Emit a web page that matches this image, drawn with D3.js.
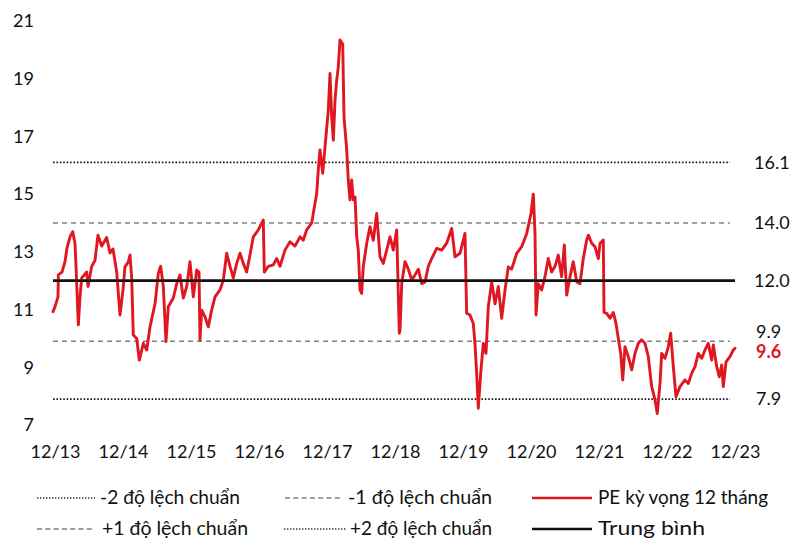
<!DOCTYPE html>
<html><head><meta charset="utf-8">
<script src="https://cdn.jsdelivr.net/npm/d3@7"></script>
<style>body{margin:0;background:#fff}svg{display:block}</style>
</head><body><svg id="c" width="792" height="538"></svg>
<script>
// decimal-year dates and 12-month forward PE values
const dates = [2013.888,2013.917,2013.961,2013.966,2014.020,2014.064,2014.093,2014.138,2014.177,2014.211,2014.226,2014.260,2014.285,2014.310,2014.383,2014.402,2014.457,2014.505,2014.549,2014.604,2014.677,2014.726,2014.770,2014.824,2014.873,2014.917,2014.946,2014.995,2015.020,2015.045,2015.068,2015.118,2015.157,2015.216,2015.266,2015.314,2015.388,2015.436,2015.471,2015.510,2015.549,2015.583,2015.657,2015.707,2015.755,2015.804,2015.854,2015.902,2015.951,2016.001,2016.035,2016.049,2016.074,2016.123,2016.171,2016.221,2016.270,2016.343,2016.392,2016.442,2016.491,2016.539,2016.589,2016.638,2016.686,2016.736,2016.785,2016.833,2016.907,2016.980,2016.995,2017.054,2017.127,2017.177,2017.226,2017.299,2017.373,2017.446,2017.520,2017.568,2017.618,2017.692,2017.716,2017.766,2017.789,2017.814,2017.854,2017.888,2017.936,2017.961,2017.986,2018.010,2018.035,2018.060,2018.083,2018.108,2018.148,2018.167,2018.207,2018.230,2018.255,2018.280,2018.304,2018.329,2018.354,2018.377,2018.402,2018.427,2018.451,2018.501,2018.549,2018.598,2018.648,2018.696,2018.745,2018.795,2018.843,2018.892,2018.942,2018.980,2018.991,2019.016,2019.064,2019.113,2019.163,2019.211,2019.260,2019.310,2019.358,2019.407,2019.457,2019.530,2019.604,2019.677,2019.751,2019.799,2019.873,2019.946,2019.971,2020.020,2020.068,2020.093,2020.118,2020.142,2020.177,2020.216,2020.255,2020.289,2020.339,2020.388,2020.436,2020.486,2020.535,2020.583,2020.633,2020.707,2020.780,2020.854,2020.917,2020.951,2020.976,2020.991,2021.024,2021.074,2021.123,2021.171,2021.221,2021.270,2021.318,2021.368,2021.407,2021.442,2021.491,2021.539,2021.589,2021.638,2021.686,2021.736,2021.760,2021.810,2021.858,2021.907,2021.932,2021.980,2021.991,2022.030,2022.079,2022.127,2022.167,2022.201,2022.236,2022.266,2022.299,2022.348,2022.398,2022.446,2022.495,2022.545,2022.593,2022.642,2022.692,2022.741,2022.774,2022.814,2022.839,2022.888,2022.936,2022.971,2023.010,2023.049,2023.108,2023.182,2023.230,2023.280,2023.329,2023.377,2023.427,2023.476,2023.524,2023.574,2023.598,2023.648,2023.686,2023.721,2023.745,2023.785,2023.843,2023.892,2023.917];
const pe = [10.93,11.1,11.44,12.2,12.3,12.66,13.13,13.52,13.7,13.3,12.5,10.47,11.45,12.1,12.3,11.8,12.5,12.7,13.58,13.2,13.5,12.96,13.1,12.31,10.81,11.68,12.48,12.65,12.89,12.08,10.12,10.0,9.25,9.83,9.6,10.4,11.2,12.25,12.5,11.8,9.89,11.1,11.4,11.9,12.2,11.4,11.8,12.66,11.44,12.37,12.3,9.95,10.98,10.75,10.4,10.98,11.44,11.68,12.02,12.95,12.5,12.1,12.6,12.95,12.6,12.3,12.9,13.52,13.76,14.1,12.3,12.5,12.55,12.77,12.5,13.06,13.35,13.2,13.52,13.4,13.76,14.0,14.34,15.03,15.84,16.53,15.72,16.64,17.9,19.18,17.68,16.87,18.26,18.95,19.4,20.34,20.2,17.68,16.53,15.49,14.8,15.49,14.8,14.9,13.52,13.06,11.68,11.56,12.5,13.3,13.87,13.4,14.33,12.83,12.6,13.06,13.52,13.06,13.76,10.18,10.29,11.9,12.66,12.4,12.02,12.2,12.4,11.9,11.95,12.5,12.77,13.12,13.06,13.3,13.81,12.83,12.95,13.64,10.87,10.81,10.52,9.83,8.79,7.58,8.79,9.83,9.48,11.1,11.96,11.2,11.8,10.7,11.68,12.48,12.4,12.95,13.18,13.64,14.33,15.0,13.64,10.81,11.9,11.68,12.14,12.77,12.3,12.5,12.89,12.14,13.24,11.5,12.14,12.66,11.96,11.9,12.77,13.41,13.58,13.3,13.18,12.77,13.3,13.41,10.9,10.87,10.7,10.9,10.52,10.0,9.48,8.56,9.71,9.37,8.91,9.48,9.83,9.95,9.83,9.37,8.33,7.87,7.4,8.44,9.48,9.31,9.71,10.18,9.02,7.98,8.33,8.56,8.44,8.79,9.02,9.48,9.31,9.6,9.83,9.25,9.77,9.02,8.67,9.08,8.33,9.19,9.37,9.6,9.66];

const yTicks = [7, 9, 11, 13, 15, 17, 19, 21];
const xTickYears = [2013.917, 2014.917, 2015.917, 2016.917, 2017.917, 2018.917, 2019.917, 2020.917, 2021.917, 2022.917, 2023.917];
const xTickLabels = ["12/13","12/14","12/15","12/16","12/17","12/18","12/19","12/20","12/21","12/22","12/23"];
const bandValues = [7.9, 9.9, 12.0, 14.0, 16.1];
const bandLabels = ["7.9", "9.9", "12.0", "14.0", "16.1"];
const lastLabel = "9.6";
const legendLabels = ["-2 độ lệch chuẩn", "-1 độ lệch chuẩn", "PE kỳ vọng 12 tháng", "+1 độ lệch chuẩn", "+2 độ lệch chuẩn", "Trung bình"];

const FONT = "Lato, 'Open Sans', sans-serif";
const RED = "#e01620";
const svg = d3.select("#c");

const x = d3.scaleLinear().domain([2013.917, 2023.917]).range([55, 735]);
const y = d3.scaleLinear().domain([7, 21]).range([425, 21]);

// reference lines
const bandStyle = [
  {dash: "1.6,1.8", color: "#1a1a1a", w: 1.8, end: 2023.843, lab: 0},
  {dash: "5,4", color: "#808080", w: 1.5, end: 2023.843, lab: -10},
  {dash: null, color: "#111", w: 2.6, end: 2023.917, lab: 0},
  {dash: "5,4", color: "#808080", w: 1.5, end: 2023.843, lab: 0},
  {dash: "1.6,1.8", color: "#1a1a1a", w: 1.8, end: 2023.843, lab: 0}
];
svg.append("g").selectAll("line").data(bandValues).join("line")
  .attr("x1", x(dates[0])).attr("x2", (d, i) => x(bandStyle[i].end))
  .attr("y1", d => y(d)).attr("y2", d => y(d))
  .attr("stroke", (d, i) => bandStyle[i].color)
  .attr("stroke-width", (d, i) => bandStyle[i].w)
  .attr("stroke-dasharray", (d, i) => bandStyle[i].dash);

// PE series
const series = dates.map((t, i) => ({t, v: pe[i]}));
svg.append("path").datum(series)
  .attr("fill", "none").attr("stroke", RED).attr("stroke-width", 2.9)
  .attr("stroke-linejoin", "round").attr("stroke-linecap", "round")
  .attr("d", d3.line().x(d => x(d.t)).y(d => y(d.v)));

// mean line drawn over the series
svg.append("line")
  .attr("x1", x(dates[0])).attr("x2", x(bandStyle[2].end))
  .attr("y1", y(bandValues[2])).attr("y2", y(bandValues[2]))
  .attr("stroke", "#111").attr("stroke-width", 2.6);

// axes
const yAxis = svg.append("g").attr("transform", "translate(53,0)")
  .call(d3.axisLeft(y).tickValues(yTicks).tickFormat(d3.format("d")).tickSize(0).tickPadding(19));
const xAxis = svg.append("g").attr("transform", "translate(0,442)")
  .call(d3.axisBottom(x).tickValues(xTickYears).tickFormat((d, i) => xTickLabels[i]).tickSize(0).tickPadding(3));
[yAxis, xAxis].forEach(g => {
  g.select(".domain").remove();
  g.selectAll("text").attr("font-family", FONT).attr("font-size", 18).attr("fill", "#111");
});

// right labels
svg.append("g").selectAll("text").data(bandValues).join("text")
  .attr("x", d => d < 10 ? 756 : 754).attr("y", (d, i) => y(d) + bandStyle[i].lab).attr("dy", "0.35em")
  .attr("font-family", FONT).attr("font-size", 18).attr("fill", "#111")
  .text((d, i) => bandLabels[i]);
svg.append("text").attr("x", 756).attr("y", y(pe[pe.length - 1]) + 3.5).attr("dy", "0.35em")
  .attr("font-family", FONT).attr("font-size", 18).attr("font-weight", "bold").attr("fill", RED)
  .text(lastLabel);

// legend
const legendItems = [
  {sx: 37, sw: 58, ty: 497, tx: 100, tw: 140, type: 0},
  {sx: 285, sw: 58, ty: 497, tx: 348, tw: 144, type: 1},
  {sx: 532, sw: 60, ty: 497, tx: 598, tw: 170, type: 2},
  {sx: 37, sw: 58, ty: 528, tx: 102, tw: 146, type: 1},
  {sx: 284, sw: 62, ty: 528, tx: 350, tw: 142, type: 0},
  {sx: 532, sw: 60, ty: 528, tx: 598, tw: 107, type: 3}
];
const legendStroke = [
  {dash: "1.4,1.6", color: "#333", w: 1.6},
  {dash: "5,3.3", color: "#808080", w: 1.5},
  {dash: null, color: RED, w: 2.6},
  {dash: null, color: "#111", w: 2.6}
];
const lg = svg.append("g");
legendItems.forEach((it, i) => {
  const st = legendStroke[it.type];
  lg.append("line").attr("x1", it.sx).attr("x2", it.sx + it.sw)
    .attr("y1", it.ty + 1).attr("y2", it.ty + 1)
    .attr("stroke", st.color).attr("stroke-width", st.w).attr("stroke-dasharray", st.dash);
  lg.append("text").attr("x", it.tx).attr("y", it.ty).attr("dy", "0.35em")
    .attr("font-family", FONT).attr("font-size", 19).attr("fill", "#111")
    .attr("textLength", it.tw).attr("lengthAdjust", "spacingAndGlyphs")
    .text(legendLabels[i]);
});
</script></body></html>
